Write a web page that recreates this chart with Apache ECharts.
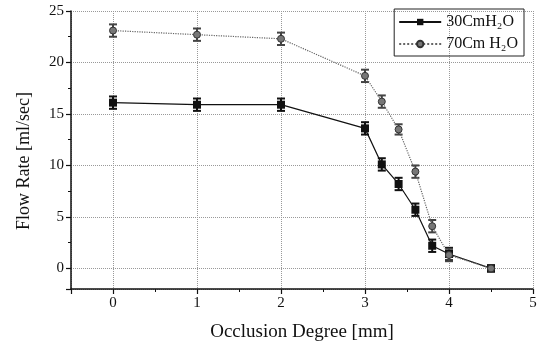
<!DOCTYPE html>
<html><head><meta charset="utf-8">
<script src="https://cdn.jsdelivr.net/npm/echarts@6/dist/echarts.min.js"></script>
<style>html,body{margin:0;padding:0;background:#fff}#c{width:545px;height:347px}</style>
</head><body><div id="c"></div>
<script>
const xValues = [0, 1, 2, 3, 3.2, 3.4, 3.6, 3.8, 4, 4.5];
const flow30 = [16.1, 15.9, 15.9, 13.6, 10.1, 8.2, 5.7, 2.2, 1.4, 0];
const err30 = [0.6, 0.6, 0.6, 0.6, 0.6, 0.6, 0.6, 0.6, 0.6, 0.3];
const flow70 = [23.1, 22.7, 22.3, 18.7, 16.2, 13.5, 9.4, 4.1, 1.3, 0];
const err70 = [0.6, 0.6, 0.6, 0.6, 0.6, 0.5, 0.6, 0.6, 0.6, 0.3];
const seriesNames = ['30CmH\u2082O', '70Cm H\u2082O'];

const font = 'Liberation Serif';
function pts(ys){ return xValues.map((x,i)=>[x, ys[i]]); }
function errData(ys, es){ return xValues.map((x,i)=>[x, ys[i]-es[i], ys[i]+es[i]]); }
function errSeries(ys, es, color){
  return {
    type: 'custom', silent: true, z: 3,
    data: errData(ys, es),
    renderItem: function(params, api){
      const x = api.value(0);
      const lo = api.coord([x, api.value(1)]);
      const hi = api.coord([x, api.value(2)]);
      const w = 4;
      const st = {stroke: color, lineWidth: 2};
      return {type: 'group', children: [
        {type: 'line', shape: {x1: lo[0], y1: lo[1], x2: hi[0], y2: hi[1]}, style: st},
        {type: 'line', shape: {x1: lo[0]-w, y1: lo[1], x2: lo[0]+w, y2: lo[1]}, style: st},
        {type: 'line', shape: {x1: hi[0]-w, y1: hi[1], x2: hi[0]+w, y2: hi[1]}, style: st}
      ]};
    }
  };
}
const chart = echarts.init(document.getElementById('c'));
chart.setOption({
  animation: false,
  textStyle: {fontFamily: font},
  grid: {left: 71, right: 12, top: 11, bottom: 55},
  legend: {
    right: 21, top: 9, orient: 'vertical',
    data: seriesNames,
    borderColor: '#222', borderWidth: 1, padding: [5, 6, 4, 4],
    itemWidth: 42, itemHeight: 8, itemGap: 6,
    textStyle: {fontFamily: font, fontSize: 16, color: '#111'}
  },
  xAxis: {
    type: 'value', min: -0.5, max: 5,
    name: 'Occlusion Degree [mm]', nameLocation: 'middle', nameGap: 34,
    nameTextStyle: {fontFamily: font, fontSize: 19, color: '#111'},
    axisLine: {onZero: false, lineStyle: {color: '#111', width: 1.5}},
    axisTick: {inside: false, length: 5, lineStyle: {color: '#111', width: 1.2}},
    minorTick: {show: true, splitNumber: 2, length: 3, lineStyle: {color: '#111'}},
    axisLabel: {showMinLabel: false, fontFamily: font, fontSize: 15, color: '#111', margin: 7,
      formatter: v => (Math.abs(v - Math.round(v)) < 1e-9 ? String(v) : '')},
    splitLine: {show: true, lineStyle: {color: '#999', type: 'dotted', width: 1}}
  },
  yAxis: {
    type: 'value', min: -2, max: 25,
    name: 'Flow Rate [ml/sec]', nameLocation: 'middle', nameGap: 38, nameRotate: 90,
    nameTextStyle: {fontFamily: font, fontSize: 18, color: '#111', padding: [0, 22, 0, 0]},
    axisLine: {show: true, onZero: false, lineStyle: {color: '#111', width: 1.5}},
    axisTick: {show: true, inside: false, length: 5, lineStyle: {color: '#111', width: 1.2}},
    minorTick: {show: true, splitNumber: 2, length: 3, lineStyle: {color: '#111'}},
    axisLabel: {showMinLabel: false, fontFamily: font, fontSize: 15, color: '#111', margin: 7,
      formatter: v => (v % 5 === 0 ? String(v) : '')},
    splitLine: {show: true, lineStyle: {color: '#999', type: 'dotted', width: 1}}
  },
  series: [
    {
      name: seriesNames[0], type: 'line', data: pts(flow30), z: 4,
      symbol: 'rect', symbolSize: 8,
      lineStyle: {color: '#111', width: 1.2, type: 'solid'},
      itemStyle: {color: '#111'}
    },
    {
      name: seriesNames[1], type: 'line', data: pts(flow70), z: 4,
      symbol: 'circle', symbolSize: 7,
      lineStyle: {color: '#666', width: 1.2, type: 'dotted'},
      itemStyle: {color: '#777', borderColor: '#333', borderWidth: 1}
    },
    errSeries(flow30, err30, '#111'),
    errSeries(flow70, err70, '#444')
  ]
});
</script></body></html>
